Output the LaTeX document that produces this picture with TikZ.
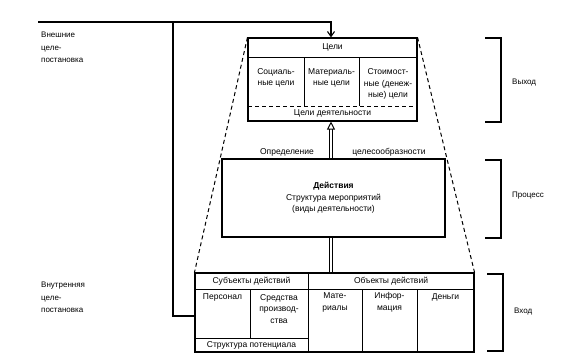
\documentclass[tikz,border=0pt]{standalone}
\usepackage{fontspec}
\setmainfont{Liberation Sans}
\usetikzlibrary{arrows.meta}
\begin{document}
\begin{tikzpicture}[x=1pt,y=-1pt,
  box/.style={draw,line width=1.1pt,inner sep=0pt,minimum width=#1},
  cell/.style={line width=0.9pt},
  txt/.style={inner sep=0pt,align=center,font=\fontsize{8.5}{11.5}\selectfont},
  ltxt/.style={inner sep=0pt,align=left,anchor=west,font=\fontsize{8}{12.5}\selectfont},
  brk/.style={line width=1.1pt},
  dsh/.style={dashed,line width=1pt,dash pattern=on 4pt off 3pt}]
\useasboundingbox (0,0) rectangle (568,359);
% main boxes
\node[box=169pt,minimum height=83pt] (goals) at (332.5,79.5) {};
\node[box=223pt,minimum height=78pt] (proc) at (333.5,198) {};
\node[box=279pt,minimum height=79pt] (inp) at (334.5,312.5) {};
% goals box inner lines
\draw[cell] (248,57) -- (417,57);
\draw[dsh] (248,106) -- (417,106);
\draw[cell] (304,57) -- (304,106);
\draw[cell] (359,57) -- (359,106);
\node[txt] (g0) at (332.5,47) {Цели};
\node[txt] (g1) at (276,78) {Социаль-\\ные цели};
\node[txt] (g2) at (331.5,78) {Материаль-\\ные цели};
\node[txt] (g3) at (388,84) {Стоимост-\\ные (денеж-\\ные) цели};
\node[txt] (g4) at (332.5,113) {Цели деятельности};
% process text
\node[txt] (p0) at (333.5,198) {\textbf{Действия}\\Структура мероприятий\\(виды деятельности)};
\node[txt] (d1) at (287,152) {Определение};
\node[txt] (d2) at (389,152) {целесообразности};
% input box inner lines
\draw[cell] (195,289) -- (474,289);
\draw[cell] (308,273) -- (308,352);
\draw[cell] (250,289) -- (250,338);
\draw[cell] (195,338) -- (308,338);
\draw[cell] (362,289) -- (362,352);
\draw[cell] (417,289) -- (417,352);
\node[txt] (b1) at (251.5,281) {Субъекты действий};
\node[txt] (b2) at (391,281) {Объекты действий};
\node[txt] (b3) at (222.5,297) {Персонал};
\node[txt] (b4) at (279,309) {Средства\\производ-\\ства};
\node[txt] (b5) at (251.5,345) {Структура потенциала};
\node[txt] (b6) at (335,302.5) {Мате-\\риалы};
\node[txt] (b7) at (389.5,302.5) {Инфор-\\мация};
\node[txt] (b8) at (445.5,297) {Деньги};
% connectors
\coordinate (ext) at (38,22);
\coordinate (corner) at (173,22);
\coordinate (tA) at (331,22);
\coordinate (cB) at (173,316);
\draw[line width=1.1pt,-{Straight Barb[length=5pt,width=7pt]}] (ext) -- (tA) -- (tA |- goals.north);
\draw[line width=1.1pt] (corner) -- (cB) -- (cB -| inp.west);
\draw[line width=1pt,double,double distance=1.2pt,-{Triangle[open,length=8pt,width=8pt,line width=1pt]}] (proc.north -| tA) -- (goals.south -| tA);
\draw[line width=1pt,double,double distance=1.2pt] (inp.north -| tA) -- (proc.south -| tA);
\draw[dsh] (goals.north west) -- (inp.north west);
\draw[dsh] (goals.north east) -- (inp.north east);
% left labels
\node[ltxt] (l1) at (41,47.5) {Внешние\\целе-\\постановка};
\node[ltxt] (l2) at (41,297.5) {Внутренняя\\целе-\\постановка};
% brackets
\draw[brk] (485,38) -- (501,38) -- (501,122) -- (485,122);
\draw[brk] (485,160) -- (501,160) -- (501,238) -- (485,238);
\draw[brk] (487,274) -- (503,274) -- (503,351) -- (487,351);
\node[ltxt] (r1) at (512,83) {Выход};
\node[ltxt] (r2) at (512,196) {Процесс};
\node[ltxt] (r3) at (514,312) {Вход};
\end{tikzpicture}
\end{document}
